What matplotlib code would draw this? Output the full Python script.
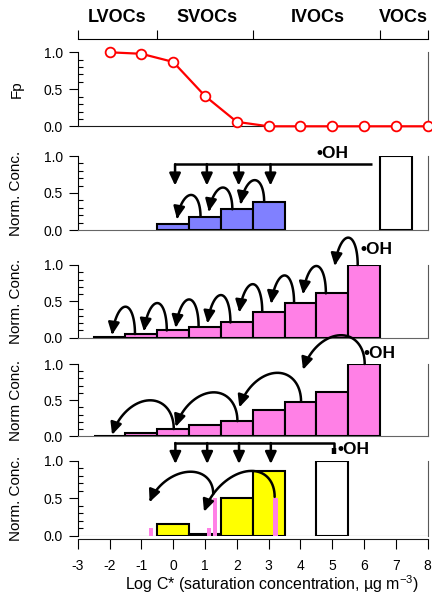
import matplotlib
matplotlib.use('Agg')
import matplotlib.pyplot as plt
import numpy as np
from matplotlib.patches import FancyArrowPatch
from matplotlib.path import Path
from matplotlib.ticker import MultipleLocator

plt.rcParams['font.family'] = ['Liberation Sans', 'DejaVu Sans']
plt.rcParams['mathtext.fontset'] = 'custom'
plt.rcParams['mathtext.rm'] = 'Liberation Sans'
plt.rcParams['mathtext.default'] = 'regular'
plt.rcParams['axes.unicode_minus'] = False

# volatility basis (log C*) and particle fraction
log_c = [-2, -1, 0, 1, 2, 3, 4, 5, 6, 7, 8]
fp = [1.0, 0.98, 0.87, 0.41, 0.06, 0.0, 0.0, 0.0, 0.0, 0.0, 0.0]

class_edges = [-3, -0.5, 2.5, 6.5, 8]
class_names = ['LVOCs', 'SVOCs', 'IVOCs', 'VOCs']
class_mid = [-1.75, 1.05, 4.55, 7.25]

# panel 2: functionalization of SVOCs by an IVOC/VOC precursor
svoc_x = [0, 1, 2, 3]
svoc_conc = [0.08, 0.18, 0.28, 0.38]
prec2_x = [7]
prec2_conc = [1.0]

# panels 3 and 4: stepwise ageing ladder
ladder_x = [-2, -1, 0, 1, 2, 3, 4, 5, 6]
ladder_conc = [0.01, 0.05, 0.10, 0.15, 0.21, 0.36, 0.48, 0.61, 1.0]

# panel 5: mixed functionalization / fragmentation
mix_x = [0, 1, 2, 3]
mix_conc = [0.15, 0.02, 0.50, 0.87]
prec5_x = [5]
prec5_conc = [1.0]
frag_x = [-0.70, 1.12, 1.31, 3.21]
frag_conc = [0.10, 0.10, 0.51, 0.50]

PURPLE = '#8080ff'
PINK = '#ff80e6'
YELLOW = '#ffff00'

W, H = 432, 597
X0, X1 = 77.7, 427.7
# pixel rows of (value 1.0, value 0.0) for each panel
rows = [(52.3, 126.3), (156, 230), (265, 337.7), (364, 436.3), (461, 535.7)]

ARROW = '-|>,head_length=0.6,head_width=0.28'


def make_ax(fig, r, ylabel):
	top, bot = r
	ax = fig.add_axes([X0 / W, (H - bot) / H, (X1 - X0) / W, (bot - top) / H])
	ax.set_xlim(-3, 8)
	ax.set_ylim(0, 1)
	ax.spines['top'].set_visible(False)
	for s in ['left', 'right', 'bottom']:
		ax.spines[s].set_linewidth(0.8)
	ax.spines['left'].set_bounds(0, 1)
	ax.spines['right'].set_color('0.35')
	ax.spines['bottom'].set_color('0.4')
	ax.set_yticks([0, 0.5, 1.0])
	ax.set_yticklabels(['0.0', '0.5', '1.0'])
	ax.yaxis.set_minor_locator(MultipleLocator(0.1))
	ax.tick_params(axis='y', which='major', direction='out', length=6.7, width=0.8, pad=4, labelsize=10)
	ax.tick_params(axis='y', which='minor', direction='in', length=3.5, width=0.8)
	ax.tick_params(axis='x', which='both', bottom=False, labelbottom=False)
	ax.set_ylabel(ylabel, fontsize=11)
	ax.yaxis.set_label_coords(-0.155, 0.5)
	ax.patch.set_visible(False)
	return ax


def hop(ax, x0, y0, x1, y1, rise, lean=0.12):
	# curved arrow: rises from (x0, y0) and lands with its head at (x1, y1)
	t = np.linspace(0, np.pi * (1 - lean), 40)
	te = t[-1]
	a = (x0 - x1) / (1 - np.cos(te))
	xs = x0 - a * (1 - np.cos(t))
	ys = y0 + rise * np.sin(t) + (y1 - y0 - rise * np.sin(te)) * (1 - np.cos(t)) / (1 - np.cos(te))
	p = FancyArrowPatch(path=Path(np.column_stack([xs, ys])), arrowstyle=ARROW,
						mutation_scale=12, lw=1.8, color='k', zorder=5)
	p.set_clip_on(False)
	ax.add_patch(p)


def drop(ax, x, ytop, ytip):
	ax.annotate('', xy=(x, ytip), xytext=(x, ytop), annotation_clip=False,
				arrowprops=dict(arrowstyle=ARROW, mutation_scale=12, lw=1.8, color='k',
								shrinkA=0, shrinkB=0))


def oh(ax, x, y):
	ax.text(x, y, '\u2022OH', fontsize=12.5, fontweight='bold', va='center', ha='left')


def bars(ax, x, h, color):
	ax.bar(x, h, width=1.0, color=color, edgecolor='k', linewidth=1.5, zorder=3)


def main():
	fig = plt.figure(figsize=(W / 100, H / 100), dpi=100)

	# panel 1: Fp
	ax1 = make_ax(fig, rows[0], 'Fp')
	ax1.spines['bottom'].set_color('0.1')
	ax1.spines['top'].set_visible(True)
	ax1.spines['top'].set_linewidth(0.8)
	ax1.spines['top'].set_position(('outward', 9.6))
	ax1.set_xticks(class_edges)
	ax1.set_xticks(class_mid, minor=True)
	ax1.set_xticklabels(class_names, minor=True, fontsize=13, fontweight='bold')
	ax1.tick_params(axis='x', which='major', top=True, labeltop=False, direction='out', length=6.5, width=0.8)
	ax1.tick_params(axis='x', which='minor', top=True, labeltop=True, length=0, pad=9)
	ax1.plot(log_c, fp, color='#ff0000', lw=1.6, marker='o', ms=7, mfc='white', mec='#ff0000',
			 mew=1.3, clip_on=False, zorder=6)

	# panel 2
	ax2 = make_ax(fig, rows[1], 'Norm. Conc.')
	bars(ax2, svoc_x, svoc_conc, PURPLE)
	bars(ax2, prec2_x, prec2_conc, 'white')
	ax2.plot([svoc_x[0] + 0.07, 6.25], [0.89, 0.89], color='k', lw=1.8, solid_capstyle='butt')
	for x in svoc_x:
		drop(ax2, x + 0.06, 0.89, 0.6)
	for i in range(1, len(svoc_x)):
		hop(ax2, svoc_x[i] - 0.14, svoc_conc[i], svoc_x[i - 1] + 0.12, svoc_conc[i] - 0.03, 0.37)
	oh(ax2, 4.5, 1.04)

	# panel 3
	ax3 = make_ax(fig, rows[2], 'Norm. Conc.')
	bars(ax3, ladder_x, ladder_conc, PINK)
	for i in range(1, len(ladder_x)):
		hop(ax3, ladder_x[i] - 0.2, ladder_conc[i], ladder_x[i - 1] + 0.08, ladder_conc[i] - 0.01, 0.46)
	oh(ax3, 5.88, 1.22)

	# panel 4
	ax4 = make_ax(fig, rows[3], 'Norm Conc.')
	bars(ax4, ladder_x, ladder_conc, PINK)
	for i in range(len(ladder_x) - 1, 1, -2):
		hop(ax4, ladder_x[i] + 0.02, ladder_conc[i], ladder_x[i - 2] + 0.08, ladder_conc[i] - 0.08, 0.52)
	oh(ax4, 5.98, 1.14)

	# panel 5
	ax5 = make_ax(fig, rows[4], 'Norm. Conc.')
	ax5.axhline(0, color='0.4', lw=0.8, zorder=1)
	ax5.spines['bottom'].set_position(('outward', 2.6))
	ax5.spines['bottom'].set_color('0.1')
	ax5.set_xticks(range(-3, 9))
	ax5.tick_params(axis='x', which='major', bottom=True, labelbottom=True, direction='out',
					length=7.5, width=0.8, pad=7, labelsize=10)
	bars(ax5, mix_x, mix_conc, YELLOW)
	bars(ax5, prec5_x, prec5_conc, 'white')
	ax5.bar(frag_x, frag_conc, width=0.14, color=PINK, linewidth=0, zorder=4)
	ax5.plot([mix_x[0] + 0.06, 5.06, 5.06], [1.24, 1.24, 1.13], color='k', lw=1.8, clip_on=False)
	ax5.plot([5.06, 5.06], [1.18, 1.10], color='k', lw=3.2, clip_on=False, solid_capstyle='butt')
	for x in mix_x:
		drop(ax5, x + 0.07, 1.24, 0.96)
	hop(ax5, frag_x[2] - 0.05, frag_conc[2] + 0.05, frag_x[0] - 0.04, 0.45, 0.41)
	hop(ax5, frag_x[3] - 0.02, frag_conc[3] + 0.02, frag_x[1] - 0.15, 0.32, 0.51)
	oh(ax5, 5.18, 1.15)
	ax5.set_xlabel('Log C* (saturation concentration, \u00b5g m$^{-3}$)', fontsize=11.5)
	ax5.xaxis.set_label_coords(0.555, -0.51)

	fig.savefig('out.png', dpi=100)


if __name__ == '__main__':
	main()
